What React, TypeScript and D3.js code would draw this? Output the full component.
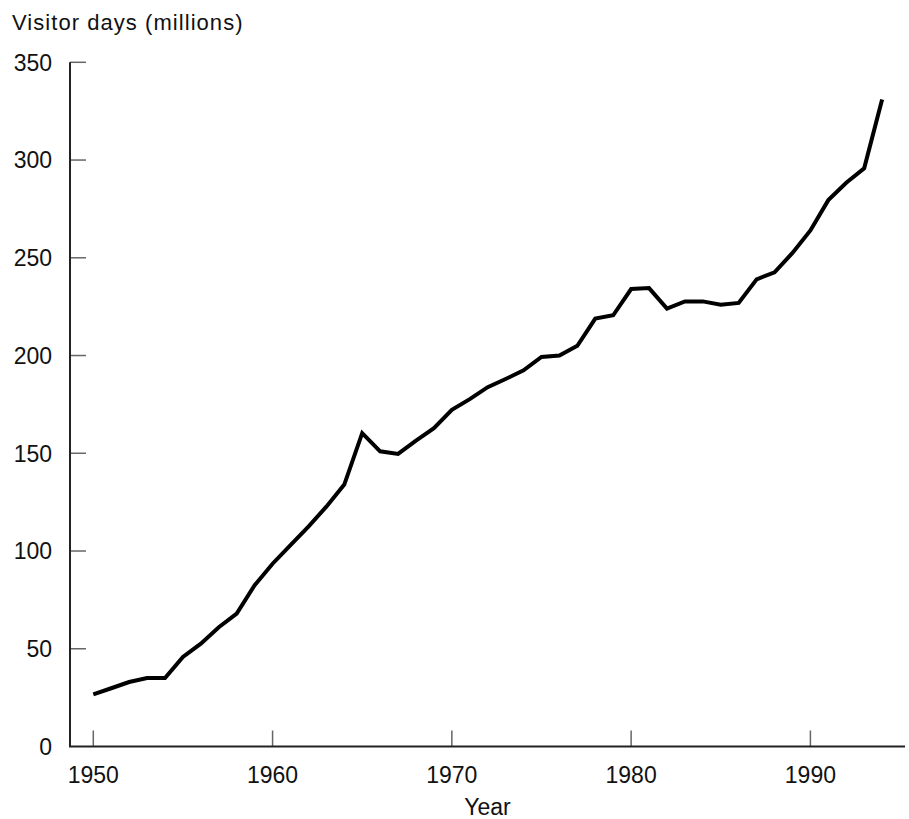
import React from "react";
import * as d3 from "d3";

const years: number[] = [
  1950, 1951, 1952, 1953, 1954, 1955, 1956, 1957, 1958, 1959,
  1960, 1961, 1962, 1963, 1964, 1965, 1966, 1967, 1968, 1969,
  1970, 1971, 1972, 1973, 1974, 1975, 1976, 1977, 1978, 1979,
  1980, 1981, 1982, 1983, 1984, 1985, 1986, 1987, 1988, 1989,
  1990, 1991, 1992, 1993, 1994,
];
const visitorDays: number[] = [
  26.7, 29.8, 33, 35, 35, 45.8, 52.6, 61, 68, 82.5,
  93.5, 103, 112.5, 122.7, 134, 160.3, 151, 149.7, 156.5, 162.8,
  172.2, 177.7, 183.8, 188, 192.4, 199.3, 200, 205, 218.9, 220.6,
  234, 234.5, 224, 227.7, 227.7, 226, 226.9, 239, 242.6, 252.5,
  264, 279.5, 288.4, 295.8, 331,
];
const xTicks: number[] = [1950, 1960, 1970, 1980, 1990];
const yTicks: number[] = [0, 50, 100, 150, 200, 250, 300, 350];
const yTitle = "Visitor days (millions)";
const xTitle = "Year";

const W = 909;
const H = 819;
const axisLeft = 70;
const axisRight = 905;
const axisBottom = 746.5;
const axisTop = 62.3;

export default function App() {
  const x = d3.scaleLinear().domain([1950, 1990]).range([93.3, 810.4]);
  const y = d3.scaleLinear().domain([0, 350]).range([axisBottom, axisTop]);
  const line = d3
    .line<number>()
    .x((_, i) => x(years[i]))
    .y((d) => y(d));
  const font = "'Liberation Sans', Arial, Helvetica, sans-serif";
  return (
    <svg
      width={W}
      height={H}
      style={{ position: "absolute", left: 0, top: 0, background: "#fff" }}
      fontFamily={font}
    >
      <text x={12} y={30} fontSize={22} letterSpacing={1.05} fill="#111">
        {yTitle}
      </text>
      {yTicks.map((t) => (
        <g key={"y" + t}>
          {t > 0 && (
            <line x1={axisLeft} x2={axisLeft + 16} y1={y(t)} y2={y(t)} stroke="#666" strokeWidth={1.5} />
          )}
          <text x={52} y={y(t)} dy="0.36em" textAnchor="end" fontSize={23} fill="#111">
            {t}
          </text>
        </g>
      ))}
      {xTicks.map((t) => (
        <g key={"x" + t}>
          <line x1={x(t)} x2={x(t)} y1={axisBottom} y2={axisBottom - 16} stroke="#666" strokeWidth={1.5} />
          <text x={x(t)} y={783} textAnchor="middle" fontSize={23} fill="#111">
            {t}
          </text>
        </g>
      ))}
      <text x={(axisLeft + axisRight) / 2} y={815} textAnchor="middle" fontSize={23} fill="#111">
        {xTitle}
      </text>
      <line x1={axisLeft} x2={axisLeft} y1={axisTop} y2={axisBottom} stroke="#222" strokeWidth={2} />
      <line x1={axisLeft - 1} x2={axisRight} y1={axisBottom} y2={axisBottom} stroke="#222" strokeWidth={2} />
      <path d={line(visitorDays) || ""} fill="none" stroke="#000" strokeWidth={4} strokeLinejoin="miter" />
    </svg>
  );
}
